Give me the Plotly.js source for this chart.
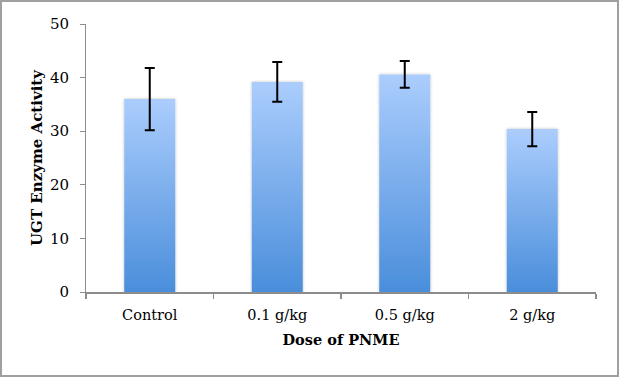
<!DOCTYPE html>
<html>
<head>
<meta charset="utf-8">
<script src="https://cdn.plot.ly/plotly-3.0.1.min.js"></script>
<style>
  html, body { margin: 0; padding: 0; background: #fff; }
  #wrap { position: relative; width: 619px; height: 377px; }
  #chart { position: absolute; left: 0; top: 0; width: 619px; height: 377px; }
  #frame { position: absolute; left: 0; top: 0; width: 615px; height: 373px;
           border: 2px solid #a0a0a0; pointer-events: none; }
</style>
</head>
<body>
<div id="wrap"><div id="chart"></div><div id="frame"></div></div>
<script>
const categories = ["Control", "0.1 g/kg", "0.5 g/kg", "2 g/kg"];
const activity = [36.0, 39.2, 40.6, 30.4];
const errors = [5.8, 3.7, 2.5, 3.2];
const yTicks = [0, 10, 20, 30, 40, 50];

const font = "DejaVu Serif, Liberation Serif, serif";

const trace = {
  type: "bar",
  x: categories,
  y: activity,
  width: 0.4,
  marker: { color: "#7aaef0", line: { width: 0 } },
  error_y: { type: "data", array: errors, visible: true, color: "#000", thickness: 2, width: 5 },
  hoverinfo: "none"
};

const layout = {
  width: 619, height: 377,
  margin: { l: 86, r: 23, t: 24, b: 85 },
  paper_bgcolor: "#fff", plot_bgcolor: "#fff",
  showlegend: false,
  font: { family: font, size: 14, color: "#000" },
  xaxis: {
    type: "category",
    showline: true, linecolor: "#8c8c8c", linewidth: 1.5,
    ticks: "outside", tickson: "boundaries", ticklen: 5, tickcolor: "#8c8c8c", tickwidth: 1.5,
    showgrid: false, zeroline: false,
    ticklabelstandoff: 9,
    tickfont: { family: font, size: 14.5 },
    title: { text: "<b>Dose of PNME</b>", font: { family: font, size: 14.5 }, standoff: 13 }
  },
  yaxis: {
    range: [0, 50], tickvals: yTicks,
    showline: true, linecolor: "#8c8c8c", linewidth: 1,
    ticks: "outside", ticklen: 5, tickcolor: "#8c8c8c", tickwidth: 1,
    showgrid: false, zeroline: false,
    ticklabelstandoff: 8,
    tickfont: { family: font, size: 15 },
    title: { text: "<b>UGT Enzyme Activity</b>", font: { family: font, size: 15 }, standoff: 3 }
  }
};

Plotly.newPlot("chart", [trace], layout, { staticPlot: true }).then(function (gd) {
  const svg = gd.querySelector("svg.main-svg");
  const ns = "http://www.w3.org/2000/svg";
  let defs = svg.querySelector("defs");
  if (!defs) { defs = document.createElementNS(ns, "defs"); svg.insertBefore(defs, svg.firstChild); }
  const grad = document.createElementNS(ns, "linearGradient");
  grad.setAttribute("id", "barGrad");
  grad.setAttribute("x1", "0"); grad.setAttribute("y1", "0");
  grad.setAttribute("x2", "0"); grad.setAttribute("y2", "1");
  [["0%", "#abcdfd"], ["100%", "#4a8edb"]].forEach(function (s) {
    const st = document.createElementNS(ns, "stop");
    st.setAttribute("offset", s[0]); st.setAttribute("stop-color", s[1]);
    grad.appendChild(st);
  });
  defs.appendChild(grad);
  const filt = document.createElementNS(ns, "filter");
  filt.setAttribute("id", "barShadow");
  filt.setAttribute("x", "-20%"); filt.setAttribute("y", "-5%");
  filt.setAttribute("width", "140%"); filt.setAttribute("height", "110%");
  filt.innerHTML = '<feDropShadow dx="0" dy="0" stdDeviation="1.5" flood-color="#000" flood-opacity="0.25"/>';
  defs.appendChild(filt);
  gd.querySelectorAll(".bars .point path").forEach(function (p) {
    p.style.fill = "url(#barGrad)";
    p.setAttribute("filter", "url(#barShadow)");
  });
});
</script>
</body>
</html>
